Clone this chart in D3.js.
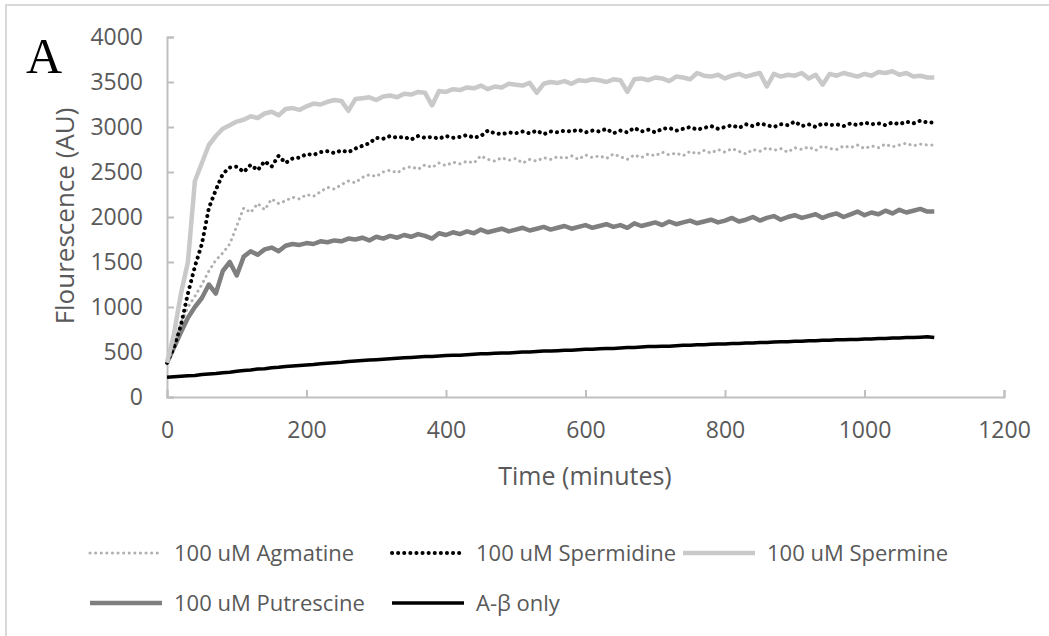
<!DOCTYPE html>
<html lang="en">
<head>
  <meta charset="UTF-8">
  <title>Fluorescence over time</title>
  <script src="https://d3js.org/d3.v7.min.js"></script>
  <style>
    body { margin: 0; background: #fff; }
    svg { display: block; }
    text { font-family: "Open Sans", sans-serif; fill: #595959; }
  </style>
</head>
<body>
<svg id="chart" width="1049" height="636"></svg>
<script>
// sampling times (minutes)
const minutes = d3.range(0, 1110, 10);

const spermine = [
  380, 700, 1150, 1500, 2400, 2600, 2800, 2900, 2980, 3020,
  3060, 3080, 3120, 3100, 3150, 3170, 3130, 3200, 3210, 3190,
  3230, 3260, 3250, 3280, 3300, 3290, 3180, 3310, 3320, 3330,
  3300, 3340, 3350, 3330, 3370, 3360, 3390, 3380, 3240, 3400,
  3390, 3420, 3410, 3440, 3430, 3460, 3420, 3450, 3440, 3480,
  3470, 3460, 3490, 3380, 3480, 3500, 3490, 3510, 3480, 3520,
  3510, 3530, 3520, 3500, 3530, 3520, 3390, 3530, 3540, 3520,
  3550, 3540, 3510, 3560, 3550, 3530, 3600, 3570, 3560, 3580,
  3540, 3570, 3590, 3560, 3580, 3600, 3450, 3590, 3560, 3580,
  3570, 3600, 3540, 3580, 3470, 3590, 3570, 3600, 3580, 3560,
  3590, 3570, 3610, 3600, 3620, 3580, 3600, 3560, 3570, 3550,
  3550
];

const spermidine = [
  380, 550, 800, 1150, 1450, 1700, 2100, 2300, 2480, 2550,
  2560, 2500, 2580, 2520, 2620, 2560, 2680, 2600, 2650, 2660,
  2700, 2690, 2720, 2730, 2710, 2740, 2720, 2760, 2790, 2820,
  2880, 2870, 2900, 2880, 2890, 2860, 2900, 2880, 2890, 2870,
  2900, 2880, 2890, 2910, 2880, 2900, 2960, 2930, 2920, 2940,
  2930, 2950, 2930, 2960, 2920, 2950, 2940, 2960, 2950, 2970,
  2940, 2960, 2950, 2980, 2930, 2960, 2940, 2990, 2950, 2970,
  2940, 2980, 2990, 2960, 2980, 3000, 2970, 2990, 3010, 2980,
  3000, 3020, 2990, 3030, 3010, 3040, 3020, 3000, 3030, 3020,
  3060, 3010, 3030, 3000, 3040, 3020, 3030, 3010, 3040, 3020,
  3050, 3030, 3040, 3020, 3050, 3030, 3060, 3040, 3070, 3050,
  3050
];

const agmatine = [
  380, 600, 820, 1000, 1120, 1250, 1400, 1520, 1600, 1700,
  1900, 2100, 2050, 2150, 2080, 2200, 2150, 2180, 2220, 2200,
  2250, 2230, 2280, 2330, 2310, 2360, 2400, 2380, 2440, 2470,
  2450, 2500, 2520, 2490, 2540, 2560, 2530, 2580, 2550, 2600,
  2570, 2610, 2590, 2620, 2600, 2680, 2640, 2620, 2660, 2630,
  2650, 2600, 2640, 2620, 2660, 2640, 2670, 2650, 2680, 2640,
  2690, 2660, 2680, 2650, 2700, 2670, 2640, 2690, 2660, 2700,
  2680, 2720, 2690, 2710, 2680, 2730, 2700, 2740, 2710, 2750,
  2720, 2760, 2730, 2700, 2750, 2730, 2770, 2740, 2760, 2720,
  2770, 2750, 2780, 2740, 2790, 2760, 2750, 2790, 2770, 2800,
  2760, 2790, 2770, 2810, 2780, 2800, 2820, 2790, 2810, 2800,
  2800
];

const putrescine = [
  380, 550, 720, 880, 1000, 1100, 1250, 1150, 1400, 1500,
  1350, 1560, 1620, 1580, 1640, 1660, 1620, 1680, 1700, 1690,
  1710, 1700, 1730, 1720, 1740, 1730, 1760, 1750, 1770, 1740,
  1780, 1760, 1790, 1770, 1800, 1780, 1810, 1790, 1760, 1820,
  1800, 1830, 1810, 1840, 1820, 1860, 1830, 1850, 1870, 1840,
  1860, 1880, 1850, 1870, 1890, 1860, 1880, 1900, 1870, 1890,
  1910, 1880, 1900, 1920, 1890, 1910, 1880, 1930, 1900, 1920,
  1940, 1910, 1950, 1920, 1940, 1960, 1930, 1950, 1970, 1940,
  1960, 1990, 1950, 1970, 2000, 1960, 1990, 2010, 1970, 2000,
  2020, 1990, 2010, 2030, 1990, 2020, 2040, 2000, 2030, 2060,
  2020, 2050, 2030, 2070, 2040, 2080, 2050, 2070, 2090, 2060,
  2060
];

const abetaOnly = [
  220, 225, 230, 235, 240, 250, 255, 260, 270, 275,
  285, 295, 300, 310, 315, 325, 330, 340, 345, 350,
  355, 360, 370, 375, 380, 385, 395, 400, 405, 410,
  415, 420, 425, 430, 435, 440, 445, 450, 450, 455,
  460, 465, 465, 470, 475, 480, 480, 485, 490, 490,
  495, 500, 500, 505, 510, 510, 515, 520, 520, 525,
  530, 530, 535, 540, 540, 545, 550, 550, 555, 560,
  560, 565, 565, 570, 575, 575, 580, 580, 585, 590,
  590, 595, 595, 600, 600, 605, 605, 610, 615, 615,
  620, 620, 625, 625, 630, 630, 635, 635, 640, 640,
  645, 645, 650, 650, 655, 655, 660, 660, 665, 670,
  660
];

const xTicks = [0, 200, 400, 600, 800, 1000, 1200];
const yTicks = [0, 500, 1000, 1500, 2000, 2500, 3000, 3500, 4000];

const series = [
  { name: "100 uM Agmatine", values: agmatine, color: "#b0b0b0", width: 3, dash: "0.1 5.5" },
  { name: "100 uM Spermidine", values: spermidine, color: "#000000", width: 4, dash: "0.1 6" },
  { name: "100 uM Spermine", values: spermine, color: "#c9c9c9", width: 4.5, dash: null },
  { name: "100 uM Putrescine", values: putrescine, color: "#7f7f7f", width: 4.5, dash: null },
  { name: "A-\u03B2 only", values: abetaOnly, color: "#000000", width: 3.5, dash: null }
];

const svg = d3.select("#chart");

// outer frame
svg.append("rect")
  .attr("x", 6).attr("y", 5)
  .attr("width", 1100).attr("height", 700)
  .attr("fill", "none")
  .attr("stroke", "#d9d9d9")
  .attr("stroke-width", 2);

const x = d3.scaleLinear().domain([0, 1200]).range([167, 1004]);
const y = d3.scaleLinear().domain([0, 4000]).range([397, 37]);

// axes
const xAxis = svg.append("g")
  .attr("transform", `translate(0,${y(0)})`)
  .call(d3.axisBottom(x).tickValues(xTicks).tickSize(-7).tickPadding(25).tickFormat(d3.format("d")));
const yAxis = svg.append("g")
  .attr("transform", `translate(${x(0)},0)`)
  .call(d3.axisLeft(y).tickValues(yTicks).tickSize(-7).tickPadding(24).tickFormat(d3.format("d")));

[xAxis, yAxis].forEach(g => {
  g.select(".domain").attr("stroke", "#bfbfbf").attr("stroke-width", 2);
  g.selectAll(".tick line").attr("stroke", "#bfbfbf").attr("stroke-width", 2);
  g.selectAll(".tick text")
    .attr("fill", "#595959")
    .style("font-family", "'Open Sans', sans-serif")
    .style("font-size", "23px");
});

// lines
const line = d3.line()
  .x((d, i) => x(minutes[i]))
  .y(d => y(d));

// draw order: A-beta, putrescine, agmatine, spermidine, spermine
const order = [4, 3, 0, 1, 2];
svg.append("g")
  .selectAll("path")
  .data(order.map(i => series[i]))
  .join("path")
    .attr("d", d => line(d.values))
    .attr("fill", "none")
    .attr("stroke", d => d.color)
    .attr("stroke-width", d => d.width)
    .attr("stroke-linecap", d => d.dash ? "round" : "butt")
    .attr("stroke-linejoin", "round")
    .attr("stroke-dasharray", d => d.dash);

// axis titles
svg.append("text")
  .attr("transform", "translate(74,216) rotate(-90)")
  .attr("text-anchor", "middle")
  .style("font-size", "26px")
  .text("Flourescence (AU)");

svg.append("text")
  .attr("x", 585).attr("y", 485)
  .attr("text-anchor", "middle")
  .style("font-size", "25px")
  .text("Time (minutes)");

// panel letter
svg.append("text")
  .attr("x", 26).attr("y", 73)
  .style("font-family", "'Liberation Serif', serif")
  .style("font-size", "50px")
  .style("fill", "#000")
  .text("A");

// legend
const legendPos = [
  { x: 90, y: 553 }, { x: 392, y: 553 }, { x: 683, y: 553 },
  { x: 90, y: 603 }, { x: 392, y: 603 }
];
const legend = svg.append("g")
  .selectAll("g")
  .data(series)
  .join("g")
    .attr("transform", (d, i) => `translate(${legendPos[i].x},${legendPos[i].y})`);

legend.append("line")
  .attr("x1", 0).attr("x2", 72)
  .attr("stroke", d => d.color)
  .attr("stroke-width", d => d.width)
  .attr("stroke-linecap", d => d.dash ? "round" : "butt")
  .attr("stroke-dasharray", d => d.dash);

legend.append("text")
  .attr("x", 84).attr("dy", "0.35em")
  .style("font-size", "22px")
  .text(d => d.name);
</script>
</body>
</html>
